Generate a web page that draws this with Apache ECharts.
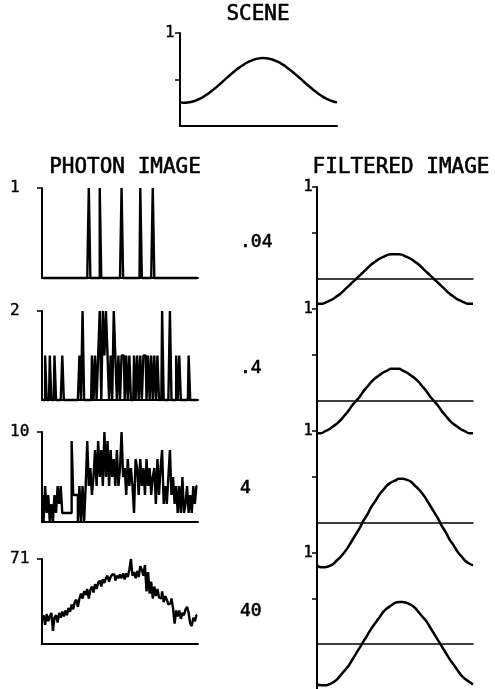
<!DOCTYPE html>
<html>
<head>
<meta charset="utf-8">
<title>Photon image</title>
<script src="https://cdn.jsdelivr.net/npm/echarts@6/dist/echarts.min.js"></script>
<style>
html, body { margin: 0; padding: 0; background: #fff; }
#main { width: 495px; height: 689px; }
</style>
</head>
<body>
<div id="main"></div>
<script>
// scene intensity, 41 samples across the field
var sceneValues = [
  .254,.250,.252,.260,.273,.291,.315,.343,.374,.409,.445,.482,.520,.557,.592,.625,.654,.680,.700,.716,
  .726,.730,.728,.720,.707,.689,.665,.637,.606,.571,.535,.498,.460,.423,.388,.355,.326,.300,.280,.264,.254];

// photon counts, 100 bins per row
var photonMax = [1, 2, 10, 71];
var photonMean = [".04", ".4", "4", "40"];
var photon1Bins = [30, 37, 51, 63, 71]; // only 5 photons, store where they fell
var photon2 = [
  0,0,1,0,0,1,0,0,1,0,
  0,0,0,1,0,0,0,0,0,0,
  0,0,0,0,1,0,2,0,0,0,
  0,0,1,0,1,0,1,2,0,2,
  1,2,1,0,1,0,2,1,0,1,
  0,1,1,0,1,0,1,0,0,1,
  0,1,0,1,0,1,1,0,1,0,
  1,0,1,0,1,0,0,2,0,0,
  0,0,2,0,0,0,1,0,1,0,
  0,0,0,0,1,0,0,0,0,0];
var photon3 = [
  3,0,4,1,3,0,2,0,3,1,
  4,2,4,1,1,1,1,1,1,9,
  3,3,3,0,4,0,4,0,4,9,
  4,6,3,5,8,4,9,5,8,4,
  10,5,9,4,8,5,7,4,8,4,
  6,10,5,6,3,7,4,6,4,1,
  7,6,3,7,4,6,3,7,4,6,
  3,5,6,2,7,3,6,8,2,4,
  2,5,8,3,5,2,4,1,4,1,
  5,1,2,4,1,3,1,4,2,4];
var photon4 = [
  20,24,16,25,19,23,26,11,22,24,
  18,26,22,27,23,28,24,30,27,33,
  29,35,37,31,38,42,38,44,41,46,
  38,45,48,43,50,46,51,53,48,54,
  51,55,57,52,56,58,58,53,57,55,
  58,55,59,54,59,56,62,71,57,60,
  55,61,56,65,62,57,66,44,60,42,
  52,38,48,40,46,39,38,44,35,40,
  37,33,34,38,30,17,28,23,28,21,
  26,24,29,31,26,17,15,22,19,24];

// filtered image, 41 samples per row (0 = mean level)
var filtered1 = [-.27,-.27,-.26,-.24,-.22,-.19,-.16,-.12,-.08,-.04,0,.04,.08,.12,.16,.19,.22,.24,.26,.27,.27,
  .27,.26,.24,.22,.19,.16,.12,.08,.04,0,-.04,-.08,-.12,-.16,-.19,-.22,-.24,-.26,-.27,-.27];
var filtered2 = [-.35,-.35,-.33,-.31,-.28,-.25,-.21,-.16,-.11,-.05,0,.05,.11,.16,.21,.25,.28,.31,.33,.35,.35,
  .35,.33,.31,.28,.25,.21,.16,.11,.05,0,-.05,-.11,-.16,-.21,-.25,-.28,-.31,-.33,-.35,-.35];
var filtered3 = [-.46,-.48,-.48,-.47,-.45,-.41,-.37,-.32,-.26,-.19,-.12,-.05,.03,.10,.18,.24,.31,.36,.41,.44,
  .46,.48,.48,.47,.45,.41,.37,.32,.26,.19,.12,.05,-.03,-.10,-.18,-.24,-.31,-.36,-.41,-.44,-.46];
var filtered4 = [-.45,-.46,-.46,-.45,-.43,-.40,-.35,-.30,-.25,-.18,-.11,-.04,.03,.10,.17,.23,.29,.35,.39,.42,
  .45,.46,.46,.45,.43,.40,.35,.30,.25,.18,.11,.04,-.03,-.10,-.17,-.23,-.29,-.35,-.39,-.42,-.45];

var FONT = "DejaVu Sans Mono";
var bins = [], samples = [];
for (var i = 0; i < 100; i++) bins.push(i);
for (var j = 0; j < 41; j++) samples.push(j);

var photon1 = bins.map(function (b) { return photon1Bins.indexOf(b) >= 0 ? 1 : 0; });
var photonRows = [photon1, photon2, photon3, photon4];
var filteredRows = [filtered1, filtered2, filtered3, filtered4];

var grid = [], xAxis = [], yAxis = [], series = [];
var black = "#000";

function addPanel(box, cats, gap, y, data, line) {
  var gi = grid.length;
  grid.push(box);
  xAxis.push({
    gridIndex: gi, type: "category", data: cats, boundaryGap: gap,
    axisLine: { lineStyle: { color: black, width: line.axisX || 2 } },
    axisTick: { show: false }, axisLabel: { show: false }, splitLine: { show: false }
  });
  yAxis.push({
    gridIndex: gi, type: "value", min: y.min, max: y.max,
    splitLine: { show: false },
    axisLine: { show: true, lineStyle: { color: black, width: 2 } },
    axisTick: { show: true, length: 5, customValues: y.ticks, lineStyle: { color: black, width: 1.5 } },
    axisLabel: {
      customValues: [y.max], formatter: function () { return String(y.max); },
      margin: y.margin, align: y.align, color: black, fontFamily: FONT, fontSize: 16,
      textBorderColor: black, textBorderWidth: 0.4
    }
  });
  series.push({
    type: "line", xAxisIndex: gi, yAxisIndex: gi, data: data,
    smooth: line.smooth || false, step: line.step || false, symbol: "none", clip: false,
    lineStyle: { color: black, width: line.width }
  });
}

// scene
addPanel({ left: 180, top: 33, width: 157, height: 93 }, samples, false,
  { min: 0, max: 1, ticks: [0.5, 1], margin: 15, align: "left" },
  sceneValues, { smooth: true, width: 2.5 });

// photon images
var photonTop = [188, 311, 432, 559];
var photonHeight = [90, 89, 90, 85];
for (var p = 0; p < 4; p++) {
  addPanel({ left: 42, top: photonTop[p], width: 156, height: photonHeight[p] }, bins, true,
    { min: 0, max: photonMax[p], ticks: [photonMax[p]], margin: 32, align: "left" },
    photonRows[p], { step: "middle", width: 2.4 });
}

// filtered images, the rows overlap a little
for (var f = 0; f < 4; f++) {
  addPanel({ left: 317, top: 187 + 122 * f, width: 156, height: 138 }, samples, false,
    { min: -0.5, max: 1, ticks: [0.5, 1], margin: 4, align: "right" },
    filteredRows[f], { smooth: true, width: 2.5, axisX: 1.5 });
}

var texts = [
  { text: "SCENE", x: 258, y: 15, size: 21, align: "center" },
  { text: "PHOTON IMAGE", x: 125, y: 168, size: 21, align: "center" },
  { text: "FILTERED IMAGE", x: 401, y: 168, size: 21, align: "center" }
];
var meanY = [242, 368, 488, 611];
photonMean.forEach(function (m, k) {
  texts.push({ text: m, x: 240, y: meanY[k], size: 18, align: "left" });
});

var chart = echarts.init(document.getElementById("main"));
chart.setOption({
  backgroundColor: "#fff",
  animation: false,
  grid: grid,
  xAxis: xAxis,
  yAxis: yAxis,
  series: series,
  graphic: texts.map(function (t) {
    return {
      type: "text", x: t.x, y: t.y,
      style: {
        text: t.text, align: t.align, verticalAlign: "middle", fill: black,
        stroke: black, lineWidth: 0.6, fontFamily: FONT, fontSize: t.size
      }
    };
  })
});
</script>
</body>
</html>
